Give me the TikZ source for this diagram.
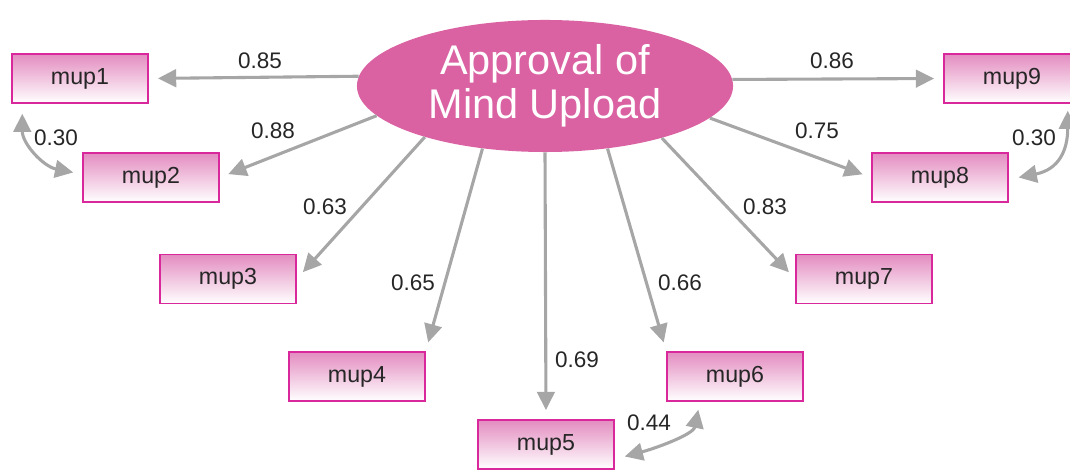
\documentclass[tikz,border=0pt]{standalone}
\usepackage{fontspec}
\setmainfont{Liberation Sans}
\usepackage{xcolor}
\usetikzlibrary{arrows.meta, positioning, shapes.geometric}
\definecolor{mupmagenta}{HTML}{D8289C}
\definecolor{muppink}{HTML}{E38CC0}
\definecolor{mupellipse}{HTML}{DA62A3}
\definecolor{mupgray}{HTML}{A6A6A6}
\definecolor{muptext}{HTML}{262626}

\begin{document}
\begin{tikzpicture}[
    x=0.025cm, y=-0.025cm,
    item/.style={draw=mupmagenta, line width=1pt, top color=muppink, bottom color=white, minimum width=3.4cm, minimum height=1.225cm, inner sep=0pt, font=\fontsize{16.5}{19}\selectfont, text=muptext},
    latent/.style={ellipse, fill=mupellipse, minimum width=9.4cm, minimum height=3.3cm, inner sep=0pt, align=center, text=white, font=\fontsize{29.5}{31}\selectfont},
    loading/.style={-{Triangle[length=13pt, width=12.5pt]}, line width=2.2pt, mupgray, shorten >=0.23cm},
    covar/.style={{Triangle[length=13pt, width=12.5pt]}-{Triangle[length=13pt, width=12.5pt]}, line width=2.2pt, mupgray},
    weight/.style={font=\fontsize{16}{19}\selectfont, text=muptext, inner sep=0pt},
]
\useasboundingbox (0,0) rectangle (1070,471);

% Latent factor
\node[latent] (mind) at (545,86) {Approval of\\Mind Upload};

% Indicators
\node[item] (mup1) at (80,78.5) {mup1};
\node[item] (mup2) at (151,177.5) {mup2};
\node[item] (mup3) at (228,279) {mup3};
\node[item] (mup4) at (357,376.5) {mup4};
\node[item] (mup5) at (546,444.5) {mup5};
\node[item] (mup6) at (735,376.5) {mup6};
\node[item] (mup7) at (864,279) {mup7};
\node[item] (mup8) at (940,177.5) {mup8};
\node[item] (mup9) at (1012,78.5) {mup9};

% Loadings
\draw[loading] (mind.177.5) -- (mup1.east);
\draw[loading] (mind.190.8) -- (mup2.east);
\draw[loading] (mind.203.5) -- (mup3.east);
\draw[loading] (mind.225) -- (mup4.north east);
\draw[loading] (mind.270) -- (mup5.north);
\draw[loading] (mind.315) -- (mup6.north west);
\draw[loading] (mind.336.9) -- (mup7.west);
\draw[loading] (mind.349.5) -- (mup8.west);
\draw[loading] (mind.2.5) -- (mup9.west);

\node[weight] (w1) at (260,61) {0.85};
\node[weight] (w2) at (273,131) {0.88};
\node[weight] (w3) at (325,207) {0.63};
\node[weight] (w4) at (413,283) {0.65};
\node[weight] (w5) at (577,360) {0.69};
\node[weight] (w6) at (680,283) {0.66};
\node[weight] (w7) at (765,207) {0.83};
\node[weight] (w8) at (817,131) {0.75};
\node[weight] (w9) at (832,61) {0.86};

% Residual covariances
\draw[covar] ([shift={(11,10)}]mup1.south west) .. controls +(0,30) and +(-30,-6) .. ([shift={(-9,-5)}]mup2.west);
\draw[covar] ([shift={(-13,7)}]mup9.south east) .. controls +(0,40) and +(40,-8) .. ([xshift=7]mup8.east);
\draw[covar] ([shift={(10,12)}]mup5.east) .. controls +(30,-8) and +(-5,25) .. ([shift={(32,8)}]mup6.south west);

\node[weight] (c12) at (56,138) {0.30};
\node[weight] (c89) at (1034,138) {0.30};
\node[weight] (c56) at (649,423) {0.44};

\end{tikzpicture}
\end{document}
